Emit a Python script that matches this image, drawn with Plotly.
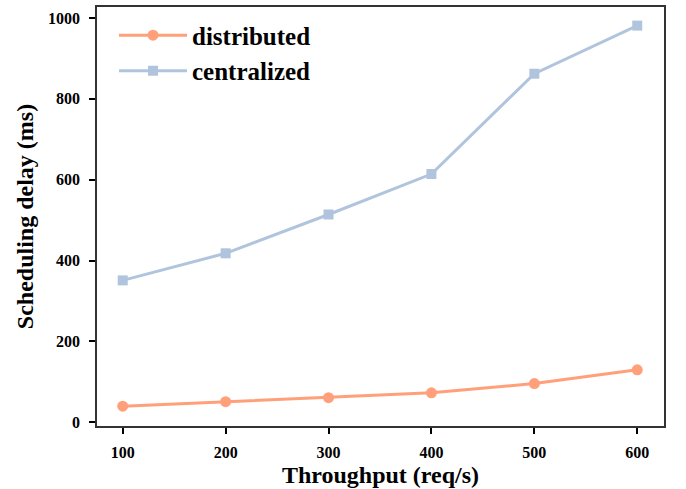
import plotly.graph_objects as go

throughput = [100, 200, 300, 400, 500, 600]
distributed = [40, 51, 61, 73, 96, 130]
centralized = [351, 418, 514, 614, 862, 981]

font_family = "Liberation Serif"

fig = go.Figure()
fig.add_trace(go.Scatter(
    x=throughput, y=distributed, name="distributed", mode="lines+markers",
    line=dict(color="#FFA07A", width=3),
    marker=dict(symbol="circle", size=11, color="#FFA07A"),
))
fig.add_trace(go.Scatter(
    x=throughput, y=centralized, name="centralized", mode="lines+markers",
    line=dict(color="#B0C4DE", width=3),
    marker=dict(symbol="square", size=10, color="#B0C4DE"),
))

fig.update_layout(
    width=686, height=489,
    margin=dict(l=97, r=22, t=5, b=62),
    plot_bgcolor="white", paper_bgcolor="white",
    font=dict(family=font_family, color="black"),
    showlegend=True,
    legend=dict(
        x=0.03, y=0.987, xanchor="left", yanchor="top",
        font=dict(family=font_family, size=25, color="black", weight="bold"),
        bgcolor="rgba(0,0,0,0)", itemwidth=68, tracegroupgap=0,
    ),
    xaxis=dict(
        range=[75, 626], tickvals=throughput,
        ticks="outside", ticklen=6, tickwidth=1.5, tickcolor="black",
        ticklabelstandoff=5,
        showline=True, linecolor="#333", linewidth=1.5, mirror=True,
        showgrid=False, zeroline=False,
        tickfont=dict(family=font_family, size=16, color="black", weight="bold"),
        title=dict(text="Throughput (req/s)", standoff=6,
                   font=dict(family=font_family, size=24, color="black", weight="bold")),
    ),
    yaxis=dict(
        range=[-9, 1027], tickvals=[0, 200, 400, 600, 800, 1000],
        ticks="outside", ticklen=6, tickwidth=1.5, tickcolor="black",
        ticklabelstandoff=6,
        showline=True, linecolor="#333", linewidth=1.5, mirror=True,
        showgrid=False, zeroline=False,
        tickfont=dict(family=font_family, size=16, color="black", weight="bold"),
        title=dict(text="Scheduling delay (ms)", standoff=8,
                   font=dict(family=font_family, size=24, color="black", weight="bold")),
    ),
)

fig.write_html("out.html")
